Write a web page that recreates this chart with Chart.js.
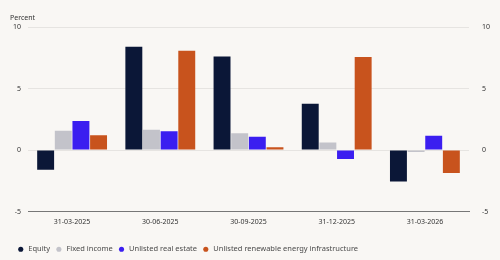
<!DOCTYPE html>
<html>
<head>
<meta charset="utf-8">
<script src="https://cdn.jsdelivr.net/npm/chart.js@4"></script>
<style>
  html, body { margin: 0; padding: 0; background: #f9f7f4; }
  #wrap { width: 500px; height: 260px; }
</style>
</head>
<body>
<div id="wrap"><canvas id="returnsChart"></canvas></div>
<script>
const quarters = ['31-03-2025', '30-06-2025', '30-09-2025', '31-12-2025', '31-03-2026'];
const equity = [-1.6, 8.4, 7.6, 3.77, -2.57];
const fixedIncome = [1.56, 1.64, 1.37, 0.6, -0.17];
const realEstate = [2.35, 1.53, 1.07, -0.74, 1.15];
const renewables = [1.2, 8.06, 0.22, 7.57, -1.87];
const yTicks = [-5, 0, 5, 10];

const tickFont = { family: 'Noto Sans', size: 7 };

// "Percent" label above the left axis
const unitLabel = {
    id: 'unitLabel',
    afterDraw(chart) {
        const ctx = chart.ctx;
        ctx.save();
        ctx.font = '7px "Noto Sans"';
        ctx.fillStyle = '#333';
        ctx.textAlign = 'left';
        ctx.textBaseline = 'middle';
        ctx.fillText('Percent', 10, chart.chartArea.top - 9);
        ctx.restore();
    }
};

const ctx = document.getElementById('returnsChart').getContext('2d');

new Chart(ctx, {
    type: 'bar',
    data: {
        labels: quarters,
        datasets: [
            { label: 'Equity', data: equity, backgroundColor: '#0b1737' },
            { label: 'Fixed income', data: fixedIncome, backgroundColor: '#c3c3ca' },
            { label: 'Unlisted real estate', data: realEstate, backgroundColor: '#3b1ef0' },
            { label: 'Unlisted renewable energy infrastructure', data: renewables, backgroundColor: '#c8531d' }
        ]
    },
    options: {
        responsive: true,
        maintainAspectRatio: false,
        animation: false,
        layout: { padding: { left: 12, right: 0, top: 27, bottom: -3 } },
        datasets: {
            bar: { categoryPercentage: 0.8, barPercentage: 0.96 }
        },
        scales: {
            x: {
                grid: { display: false, drawTicks: false },
                border: { display: true, color: '#777' },
                ticks: { font: tickFont, color: '#333', padding: 6 },
                afterFit: s => { s.height = 29; }
            },
            y: {
                min: -5, max: 10,
                afterBuildTicks: axis => { axis.ticks = yTicks.map(v => ({ value: v })); },
                grid: { color: '#e6e4e1', drawTicks: false },
                border: { display: false },
                ticks: { font: tickFont, color: '#333', padding: 7 },
                afterFit: s => { s.width = 16; }
            },
            y2: {
                position: 'right',
                min: -5, max: 10,
                afterBuildTicks: axis => { axis.ticks = yTicks.map(v => ({ value: v })); },
                grid: { display: false, drawTicks: false },
                border: { display: false },
                ticks: { font: tickFont, color: '#333', padding: 13 },
                afterFit: s => { s.width = 31; }
            }
        },
        plugins: {
            legend: {
                position: 'bottom',
                align: 'start',
                labels: {
                    usePointStyle: true,
                    pointStyle: 'circle',
                    boxWidth: 8,
                    boxHeight: 3.6,
                    padding: 5,
                    color: '#4a4a4a',
                    font: { family: 'Noto Sans', size: 7.5 }
                }
            },
            tooltip: { enabled: false }
        }
    },
    plugins: [unitLabel]
});
</script>
</body>
</html>
